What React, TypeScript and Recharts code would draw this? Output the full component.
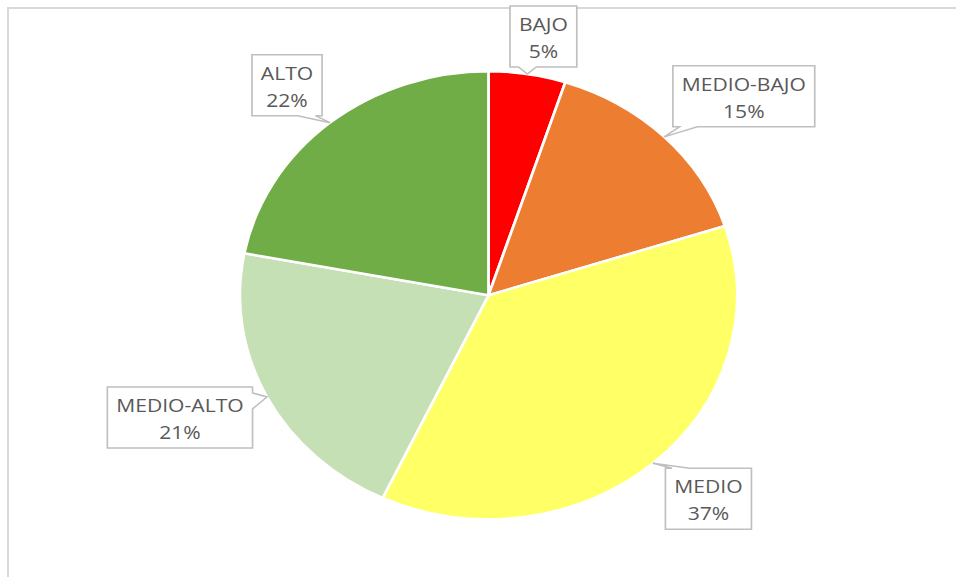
import React from 'react';
import { PieChart, Pie, Cell } from 'recharts';

const categories = ['BAJO', 'MEDIO-BAJO', 'MEDIO', 'MEDIO-ALTO', 'ALTO'];
const shares = [5, 15, 37, 21, 22];
const sliceColors = ['#ff0000', '#ed7d31', '#ffff66', '#c5e0b4', '#70ad47'];

// where each callout box sits, relative to its slice's outer edge (page px)
const labelOffsetX = [16, 79.5, 55.5, -87, -43];
const labelOffsetY = [-37.5, -40.5, 35.5, 20.5, -37.5];

// the reference pie is an ellipse, so the whole chart is stretched sideways
const STRETCH = 1.11;
const CHART_W = Math.ceil(956 / STRETCH);
const CHART_H = 577;
const MARGIN = 5; // recharts' default chart margin, added to cx / cy
const FONT = '"Open Sans", "Noto Sans", sans-serif';
const FONT_SIZE = 19;
const BOX_H = 61;

const data = categories.map((name, i) => ({ name, value: shares[i] }));

let ctx: CanvasRenderingContext2D | null = null;
function textWidth(s: string) {
  if (!ctx) ctx = document.createElement('canvas').getContext('2d');
  if (!ctx) return s.length * 11;
  ctx.font = `${FONT_SIZE}px "Open Sans"`;
  return ctx.measureText(s).width;
}

// rectangle with a small wedge pointing at (tx, ty)
function calloutPath(x0: number, y0: number, w: number, h: number, tx: number, ty: number) {
  const x1 = x0 + w;
  const y1 = y0 + h;
  const half = 8;
  let side = 'left';
  if (ty > y1) side = 'bottom';
  else if (ty < y0) side = 'top';
  else if (tx > x1) side = 'right';

  const bcx = Math.min(Math.max(tx, x0 + 14), x1 - 14);
  const bcy = Math.min(Math.max(ty, y0 + 14), y1 - 14);

  let d = `M${x0},${y0}`;
  if (side === 'top') d += ` L${bcx - half},${y0} L${tx},${ty} L${bcx + half},${y0}`;
  d += ` L${x1},${y0}`;
  if (side === 'right') d += ` L${x1},${bcy - half} L${tx},${ty} L${x1},${bcy + half}`;
  d += ` L${x1},${y1}`;
  if (side === 'bottom') d += ` L${bcx + half},${y1} L${tx},${ty} L${bcx - half},${y1}`;
  d += ` L${x0},${y1}`;
  if (side === 'left') d += ` L${x0},${bcy + half} L${tx},${ty} L${x0},${bcy - half}`;
  return d + ' Z';
}

function CalloutLabel(props: any) {
  const { cx, cy, midAngle, outerRadius, name, value } = props;
  const index = props.index ?? categories.indexOf(name);
  const rad = Math.PI / 180;
  const tx = cx + outerRadius * Math.cos(-midAngle * rad);
  const ty = cy + outerRadius * Math.sin(-midAngle * rad);
  const pct = `${value}%`;
  const w = Math.max(textWidth(name), textWidth(pct)) + 16;
  const bx = tx + labelOffsetX[index] / STRETCH - w / 2;
  const by = ty + labelOffsetY[index] - BOX_H / 2;
  const mid = bx + w / 2;

  return (
    <g>
      <path
        d={calloutPath(bx, by, w, BOX_H, tx, ty)}
        fill="#ffffff"
        stroke="#bfbfbf"
        strokeWidth={1.5}
      />
      <text x={mid} y={by + 25} textAnchor="middle" fill="#595959" fontFamily={FONT} fontSize={FONT_SIZE}>
        {name}
      </text>
      <text x={mid} y={by + 52} textAnchor="middle" fill="#595959" fontFamily={FONT} fontSize={FONT_SIZE}>
        {pct}
      </text>
    </g>
  );
}

export default function App() {
  return (
    <div
      style={{
        position: 'absolute',
        left: 0,
        top: 0,
        width: 956,
        height: 577,
        overflow: 'hidden',
        background: '#ffffff',
      }}
    >
      <div
        style={{
          position: 'absolute',
          left: 7,
          top: 7,
          right: -10,
          bottom: -10,
          borderLeft: '2px solid #d9d9d9',
          borderTop: '2px solid #d9d9d9',
        }}
      />
      <div
        style={{
          position: 'absolute',
          left: 0,
          top: 0,
          width: CHART_W,
          height: CHART_H,
          transform: `scaleX(${STRETCH})`,
          transformOrigin: '0 0',
        }}
      >
        <PieChart width={CHART_W} height={CHART_H}>
          <Pie
            data={data}
            dataKey="value"
            nameKey="name"
            cx={488.5 / STRETCH - MARGIN}
            cy={295.25 - MARGIN}
            outerRadius={224}
            startAngle={90}
            endAngle={-270}
            stroke="#ffffff"
            strokeWidth={2.5}
            label={CalloutLabel}
            labelLine={false}
            isAnimationActive={false}
          >
            {data.map((d, i) => (
              <Cell key={d.name} fill={sliceColors[i]} />
            ))}
          </Pie>
        </PieChart>
      </div>
    </div>
  );
}
